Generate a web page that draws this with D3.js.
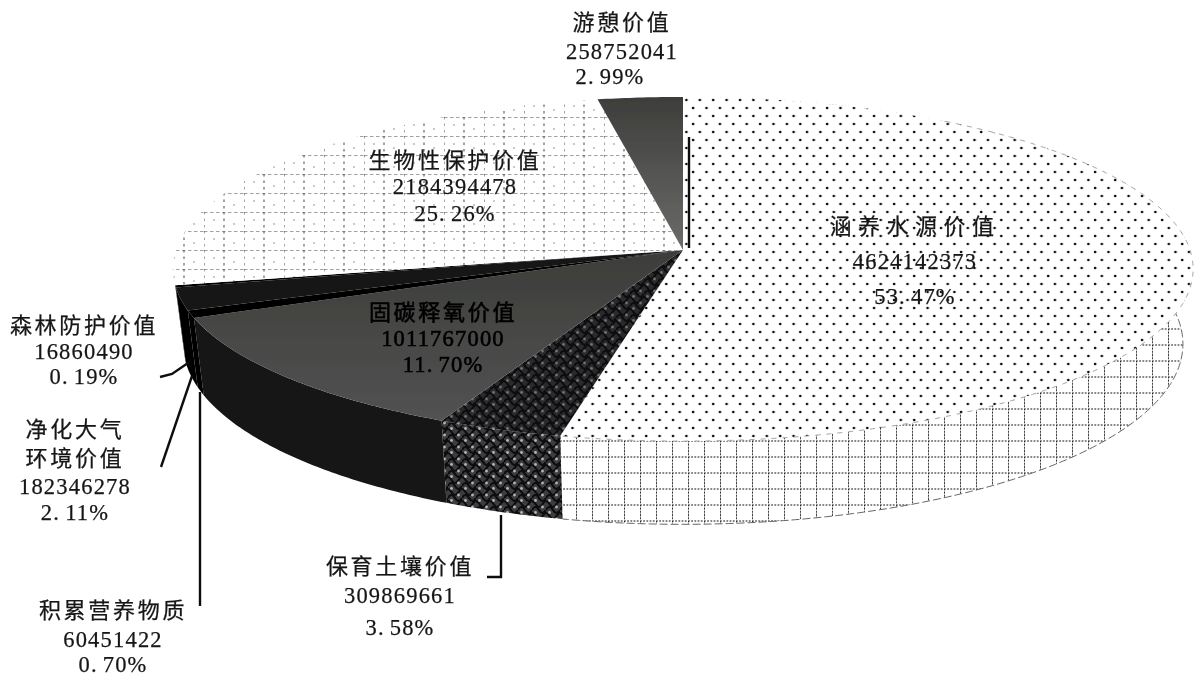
<!DOCTYPE html>
<html>
<head>
<meta charset="utf-8">
<script src="https://cdn.jsdelivr.net/npm/d3@7"></script>
<style>
  html, body { margin: 0; padding: 0; background: #fff; }
  text { fill: #161616; stroke: #161616; stroke-width: 0.25px; text-anchor: middle; }
  .zh { font: 22px "Noto Sans CJK SC", sans-serif; letter-spacing: 2.7px; }
  .num { font: 22.5px "Liberation Serif", serif; letter-spacing: 1.2px; }
  .dark text { fill: #000; stroke: #000; stroke-width: 0.6px; }
</style>
</head>
<body>
<svg id="graph"></svg>
<script>
// slices run clockwise from 12 o'clock
const names = [
  ["涵养水源价值"], ["保育土壤价值"], ["固碳释氧价值"], ["积累营养物质"],
  ["净化大气", "环境价值"], ["森林防护价值"], ["生物性保护价值"], ["游憩价值"]
];
const values = [4624142373, 309869661, 1011767000, 60451422, 182346278, 16860490, 2184394478, 258752041];
const percents = ["53.47", "3.58", "11.70", "0.70", "2.11", "0.19", "25.26", "2.99"];

const width = 1195;
const height = 677;
const cx = 683, cy = 250;
const rx = 507, ry = 170, persp = 0.1105, depth = 74;
const bottomShrink = 0.98;

// center x of each text line, first baseline, line gap by hand from the scan
const labelPos = [
  { x: 915, ys: [234, 269, 304], titleGap: 6.5 },
  { x: 400, ys: [574, 603, 635] },
  { x: 443, ys: [320, 346, 372], dark: true },
  { x: 113, ys: [618, 647, 672] },
  { x: 75, ys: [437, 466, 494, 520] },
  { x: 84, ys: [333, 359, 384] },
  { x: 455, ys: [168, 194, 221] },
  { x: 622, ys: [30, 59, 84], pctX: 610 }
];
const leaders = [
  [[501, 515], [501, 577], [487, 577]],
  [[200, 392], [200, 606]],
  [[192, 376], [161, 467]],
  [[188, 363], [172, 374], [160, 377]],
  [[689, 137], [689, 248]]
];

const svg = d3.select("#graph").attr("width", width).attr("height", height)
  .attr("viewBox", [0, 0, width, height]).style("display", "block");
const defs = svg.append("defs");

defs.append("filter").attr("id", "scan").attr("x", 0).attr("y", 0).attr("width", 1).attr("height", 1)
  .append("feGaussianBlur").attr("stdDeviation", 0.4);

// dots on the big slice
const dots = defs.append("pattern").attr("id", "dots").attr("patternUnits", "userSpaceOnUse")
  .attr("width", 13.4).attr("height", 16);
dots.append("rect").attr("width", 13.4).attr("height", 16).attr("fill", "#fff");
dots.selectAll("circle").data([[3, 4], [9.7, 12]]).join("circle")
  .attr("cx", (d) => d[0]).attr("cy", (d) => d[1]).attr("r", 1.35).attr("fill", "#111");

// square grid, used by its wall
const grid = defs.append("pattern").attr("id", "grid").attr("patternUnits", "userSpaceOnUse")
  .attr("x", 576).attr("y", 456.5).attr("width", 16).attr("height", 16);
grid.append("rect").attr("width", 16).attr("height", 16).attr("fill", "#fff");
grid.append("path").attr("d", "M0 0H16M0 0V16").attr("stroke", "#0c0c0c")
  .attr("stroke-width", 2).attr("stroke-dasharray", "1.8 1.4");

// broken grid on the biodiversity slice
const broken = defs.append("pattern").attr("id", "broken").attr("patternUnits", "userSpaceOnUse")
  .attr("x", 4).attr("y", 3).attr("width", 40).attr("height", 19);
broken.append("rect").attr("width", 40).attr("height", 19).attr("fill", "#fff");
broken.append("path").attr("d", "M0 0H40").attr("stroke", "#444")
  .attr("stroke-width", 1.2).attr("stroke-dasharray", "3.5 2.5");
broken.append("path").attr("d", "M0 0V19M20 0V19").attr("stroke", "#666")
  .attr("stroke-width", 1.2).attr("stroke-dasharray", "2.5 4");
broken.selectAll("circle").data([[10, 8], [30, 12]]).join("circle")
  .attr("cx", (d) => d[0]).attr("cy", (d) => d[1]).attr("r", 0.8).attr("fill", "#888");

// scaly dark texture for soil slice, top is darker than the wall
function scalePattern(id, base, dot) {
  const p = defs.append("pattern").attr("id", id).attr("patternUnits", "userSpaceOnUse")
    .attr("width", 14).attr("height", 12);
  p.append("rect").attr("width", 14).attr("height", 12).attr("fill", base);
  p.append("path")
    .attr("d", "M0 6Q3.5 0 7 6T14 6M-3.5 12Q0 6 3.5 12T10.5 12T17.5 12M-3.5 0Q0 -6 3.5 0T10.5 0T17.5 0")
    .attr("fill", "none").attr("stroke", "#09090b").attr("stroke-width", 2.2);
  p.selectAll("circle").data([[3.5, 8.5], [10.5, 3]]).join("circle")
    .attr("cx", (d) => d[0]).attr("cy", (d) => d[1]).attr("r", 1.4).attr("fill", dot);
}
scalePattern("scaleTop", "#2c2c2e", "#6f6f72");
scalePattern("scaleWall", "#3d3d40", "#b4b4b6");

const grayTop = defs.append("linearGradient").attr("id", "grayTop").attr("x1", 0).attr("x2", 0).attr("y1", 0).attr("y2", 1);
grayTop.append("stop").attr("offset", 0).attr("stop-color", "#3c3d3a");
grayTop.append("stop").attr("offset", 1).attr("stop-color", "#525252");
const graySide = defs.append("linearGradient").attr("id", "graySide").attr("x1", 0).attr("x2", 0).attr("y1", 0).attr("y2", 1);
graySide.append("stop").attr("offset", 0).attr("stop-color", "#3d3d3b");
graySide.append("stop").attr("offset", 1).attr("stop-color", "#6b6b69");

const topFills = ["url(#dots)", "url(#scaleTop)", "url(#grayTop)", "#040404", "#161213", "#040404", "url(#broken)", "url(#graySide)"];
const wallFills = ["url(#grid)", "url(#scaleWall)", "#141414", "#030303", "#030303", "#030303", "#fff", "#444"];

const pie = d3.pie().sort(null).value((d) => d);
const arcs = pie(values);

function project(a, h) {
  const u = Math.sin(a);
  const v = -Math.cos(a);
  const s = 1 / (1 - persp * v);
  const shrink = h > 0 ? bottomShrink : 1;
  return [cx + rx * u * s * shrink, cy + (ry * v + h) * s];
}

function rim(a0, a1, h) {
  return d3.range(a0, a1, 0.01).concat([a1]).map((a) => project(a, h));
}

const line = d3.line();
const root = svg.append("g").attr("filter", "url(#scan)");
root.append("rect").attr("width", width).attr("height", height).attr("fill", "#fff");

// walls first, the tops cover whatever faces backwards
root.append("g").selectAll("path")
  .data(arcs.slice(0, 6))
  .join("path")
  .attr("fill", (d) => wallFills[d.index])
  .attr("d", (d) =>
    line(rim(d.startAngle, d.endAngle, 0).concat(rim(d.startAngle, d.endAngle, depth).reverse())) + "Z"
  );

root.append("path")
  .attr("fill", "none").attr("stroke", "#666").attr("stroke-width", 1).attr("stroke-dasharray", "8 3")
  .attr("d", line(rim(arcs[0].startAngle + 1.2, arcs[0].endAngle, depth)));

root.append("g").selectAll("path")
  .data(arcs)
  .join("path")
  .attr("fill", (d) => topFills[d.index])
  .attr("d", (d) => line([[cx, cy]].concat(rim(d.startAngle, d.endAngle, 0))) + "Z");

// only the front of the rim shows as a faint broken line
root.append("path")
  .attr("fill", "none").attr("stroke", "#999").attr("stroke-width", 0.9).attr("stroke-dasharray", "5 6")
  .attr("d", line(rim(arcs[0].startAngle + 0.6, arcs[0].endAngle, 0)));

root.append("g").selectAll("path")
  .data(leaders)
  .join("path")
  .attr("fill", "none").attr("stroke", "#111").attr("stroke-width", 2.4)
  .attr("d", (d) => line(d));

const labels = root.append("g").selectAll("g")
  .data(arcs)
  .join("g")
  .classed("dark", (d) => labelPos[d.index].dark);

labels.each(function (d) {
  const g = d3.select(this);
  const pos = labelPos[d.index];
  const title = names[d.index];
  title.forEach((t, i) => {
    g.append("text").attr("class", "zh").attr("x", pos.x).attr("y", pos.ys[i])
      .style("letter-spacing", pos.titleGap ? pos.titleGap + "px" : null).text(t);
  });
  g.append("text").attr("class", "num").attr("x", pos.x).attr("y", pos.ys[title.length]).text(d.value);
  // the scan prints a wide gap after the decimal point
  const pct = percents[d.index].split(".");
  const p = g.append("text").attr("class", "num")
    .attr("x", pos.pctX || pos.x).attr("y", pos.ys[title.length + 1]);
  p.append("tspan").text(pct[0] + ".");
  p.append("tspan").attr("dx", 5).text(pct[1] + "%");
});
</script>
</body>
</html>
